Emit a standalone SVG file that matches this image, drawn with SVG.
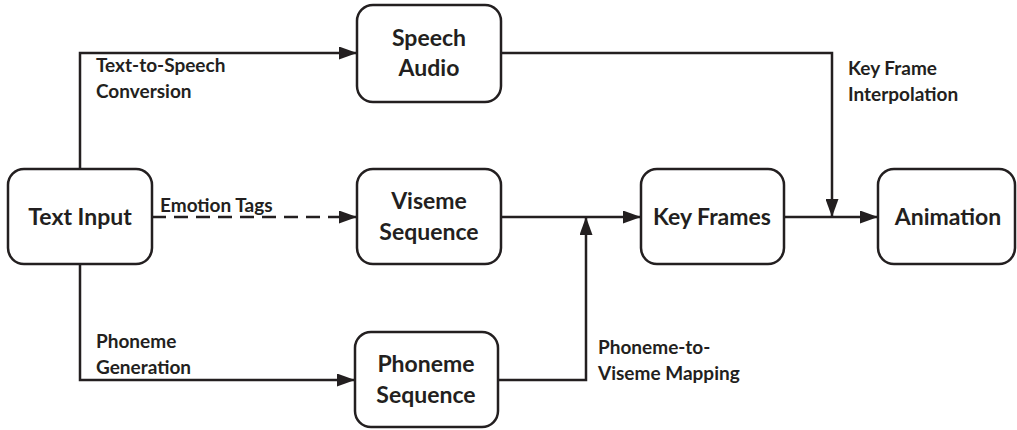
<svg xmlns="http://www.w3.org/2000/svg" width="1017" height="430" viewBox="0 0 1017 430">
<defs>
<style>
.box{fill:#fff;stroke:#231f20;stroke-width:2.5}
.n{font-family:Lato,"Liberation Sans",sans-serif;font-weight:bold;font-size:23px;fill:#231f20;text-anchor:middle}
.l{font-family:Lato,"Liberation Sans",sans-serif;font-weight:bold;font-size:19px;fill:#231f20}
.c{fill:none;stroke:#231f20;stroke-width:2.5}
</style>
<marker id="ah" viewBox="0 0 18 13" refX="18" refY="6.5" markerWidth="18" markerHeight="13" markerUnits="userSpaceOnUse" orient="auto">
<path d="M0,0 L18,6.5 L0,13 Z" fill="#231f20"/>
</marker>
</defs>
<rect width="1017" height="430" fill="#fff"/>
<g id="connectors">
<path class="c" d="M80,169 V53 H357" marker-end="url(#ah)"/>
<path class="c" d="M80,264 V380 H355" marker-end="url(#ah)"/>
<path class="c" d="M152,217 H357" stroke-dasharray="14,8" marker-end="url(#ah)"/>
<path class="c" d="M501,217 H641" marker-end="url(#ah)"/>
<path class="c" d="M498,380 H586 V217" marker-end="url(#ah)"/>
<path class="c" d="M784,217 H878" marker-end="url(#ah)"/>
<path class="c" d="M501,53 H832 V217" marker-end="url(#ah)"/>
<text class="l" x="96" y="72">Text-to-Speech</text>
<text class="l" x="96" y="98">Conversion</text>
<text class="l" x="160" y="212">Emotion Tags</text>
<text class="l" x="96" y="348">Phoneme</text>
<text class="l" x="96" y="374">Generation</text>
<text class="l" x="598" y="354">Phoneme-to-</text>
<text class="l" x="598" y="380">Viseme Mapping</text>
<text class="l" x="848" y="75">Key Frame</text>
<text class="l" x="848" y="101">Interpolation</text>
</g>
<g id="text-input">
<rect class="box" x="8" y="169" width="144" height="95" rx="16"/>
<text class="n" x="80" y="225">Text Input</text>
</g>
<g id="speech-audio">
<rect class="box" x="357" y="5" width="144" height="97" rx="16"/>
<text class="n" x="429" y="46">Speech</text>
<text class="n" x="429" y="76">Audio</text>
</g>
<g id="viseme-sequence">
<rect class="box" x="357" y="169" width="144" height="95" rx="16"/>
<text class="n" x="429" y="209">Viseme</text>
<text class="n" x="429" y="240">Sequence</text>
</g>
<g id="phoneme-sequence">
<rect class="box" x="355" y="332" width="143" height="95" rx="16"/>
<text class="n" x="426" y="372">Phoneme</text>
<text class="n" x="426" y="403">Sequence</text>
</g>
<g id="key-frames">
<rect class="box" x="641" y="169" width="143" height="95" rx="16"/>
<text class="n" x="712" y="225">Key Frames</text>
</g>
<g id="animation">
<rect class="box" x="878" y="169" width="137" height="95" rx="16"/>
<text class="n" x="948" y="225">Animation</text>
</g>
</svg>
